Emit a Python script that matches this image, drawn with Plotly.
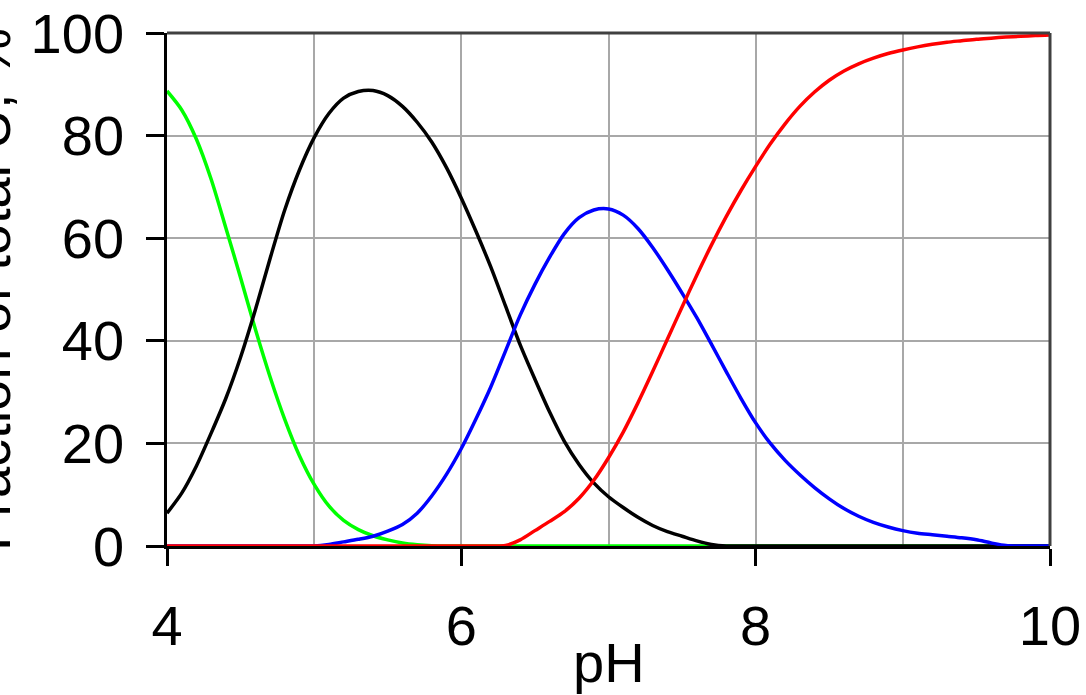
import plotly.graph_objects as go

ph = [round(4.0 + 0.1 * i, 1) for i in range(61)]

green = [88.7, 85.0, 79.3, 71.5, 62.0, 52.3, 42.3, 33.0, 24.7, 17.6,
         12.0, 7.8, 5.0, 3.2, 2.0, 1.2, 0.6, 0.25, 0.05, 0.0,
         0.0, 0.0, 0.0, 0.0, 0.0, 0.0, 0.0, 0.0, 0.0, 0.0,
         0.0, 0.0, 0.0, 0.0, 0.0, 0.0, 0.0, 0.0, 0.0, 0.0,
         0.0, 0.0, 0.0, 0.0, 0.0, 0.0, 0.0, 0.0, 0.0, 0.0,
         0.0, 0.0, 0.0, 0.0, 0.0, 0.0, 0.0, 0.0, 0.0, 0.0, 0.0]

black = [6.4, 10.3, 15.6, 22.0, 28.8, 36.8, 46.0, 56.0, 65.5, 73.3,
         79.6, 84.3, 87.3, 88.6, 88.8, 87.8, 85.7, 82.6, 78.7, 73.7,
         67.8, 61.3, 54.4, 46.8, 39.2, 32.5, 26.1, 20.4, 15.9, 12.3,
         9.6, 7.5, 5.6, 4.0, 2.8, 1.9, 1.0, 0.3, 0.0, 0.0,
         0.0, 0.0, 0.0, 0.0, 0.0, 0.0, 0.0, 0.0, 0.0, 0.0,
         0.0, 0.0, 0.0, 0.0, 0.0, 0.0, 0.0, 0.0, 0.0, 0.0, 0.0]

blue = [0.0, 0.0, 0.0, 0.0, 0.0, 0.0, 0.0, 0.0, 0.0, 0.0,
        0.0, 0.3, 0.8, 1.3, 1.9, 2.9, 4.2, 6.4, 9.8, 14.0,
        19.0, 24.8, 31.0, 38.0, 45.0, 51.0, 56.3, 60.9, 64.0, 65.5,
        65.7, 64.5, 61.9, 58.2, 53.9, 49.3, 44.5, 39.3, 34.0, 28.8,
        24.0, 20.0, 16.7, 13.9, 11.4, 9.2, 7.3, 5.8, 4.6, 3.7,
        3.0, 2.5, 2.2, 1.9, 1.6, 1.2, 0.6, 0.1, 0.0, 0.0, 0.0]

red = [0.0, 0.0, 0.0, 0.0, 0.0, 0.0, 0.0, 0.0, 0.0, 0.0,
       0.0, 0.0, 0.0, 0.0, 0.0, 0.0, 0.0, 0.0, 0.0, 0.0,
       0.0, 0.0, 0.0, 0.1, 1.2, 3.0, 4.8, 6.7, 9.3, 12.8,
       17.2, 22.2, 27.9, 34.0, 40.3, 46.6, 52.8, 58.7, 64.2, 69.3,
       74.0, 78.4, 82.3, 85.7, 88.5, 90.8, 92.6, 94.0, 95.1, 96.0,
       96.7, 97.3, 97.8, 98.2, 98.5, 98.8, 99.0, 99.2, 99.35, 99.5, 99.6]

x_ticks = [4, 6, 8, 10]
y_ticks = [0, 20, 40, 60, 80, 100]
x_title = "pH"
y_title = "Fraction of total U, %"

FONT = "Liberation Sans, Arial, sans-serif"

fig = go.Figure()
for vals, col in [(green, "#00ff00"), (black, "#000000"), (blue, "#0000ff"), (red, "#ff0000")]:
    fig.add_trace(go.Scatter(x=ph, y=vals, mode="lines",
                             line=dict(color=col, width=3.5, shape="spline", smoothing=0.8),
                             showlegend=False, hoverinfo="skip"))

fig.update_layout(
    width=1086, height=695,
    margin=dict(l=167, r=36, t=33, b=149),
    paper_bgcolor="white", plot_bgcolor="white",
    font=dict(family=FONT, size=56, color="black"),
    xaxis=dict(range=[4, 10], tickvals=x_ticks, ticks="outside", ticklen=17,
               tickwidth=2.5, tickcolor="black", showline=True, linecolor="black",
               linewidth=2.5, showgrid=True, gridcolor="#a8a8a8", gridwidth=1.5,
               zeroline=False, ticklabelstandoff=12, automargin=False,
               minor=dict(dtick=1, showgrid=True, gridcolor="#a8a8a8", gridwidth=1.5, ticks=""),
               tickfont=dict(family=FONT, size=56, color="black")),
    yaxis=dict(range=[0, 100], tickvals=y_ticks, ticks="outside", ticklen=18,
               tickwidth=2.5, tickcolor="black", showline=True, linecolor="black",
               linewidth=2.5, showgrid=True, gridcolor="#a8a8a8", gridwidth=1.5,
               zeroline=False, ticklabelstandoff=11, automargin=False,
               tickfont=dict(family=FONT, size=56, color="black")),
    shapes=[
        dict(type="line", xref="paper", yref="paper", x0=0, x1=1, y0=1, y1=1,
             line=dict(color="#404040", width=3), layer="above"),
        dict(type="line", xref="paper", yref="paper", x0=1, x1=1, y0=0, y1=1,
             line=dict(color="#404040", width=3), layer="above"),
    ],
    annotations=[
        dict(text=x_title, xref="paper", yref="paper", x=0.5, y=-0.162,
             xanchor="center", yanchor="top", showarrow=False,
             font=dict(family=FONT, size=56, color="black")),
        dict(text=y_title, xref="paper", yref="paper", x=-0.2, y=0.5,
             xanchor="center", yanchor="middle", showarrow=False, textangle=-90,
             font=dict(family=FONT, size=56, color="black")),
    ],
)

fig.write_html("out.html", config={"displayModeBar": False},
               post_script="document.body.style.margin='0';document.body.style.overflow='hidden';")
